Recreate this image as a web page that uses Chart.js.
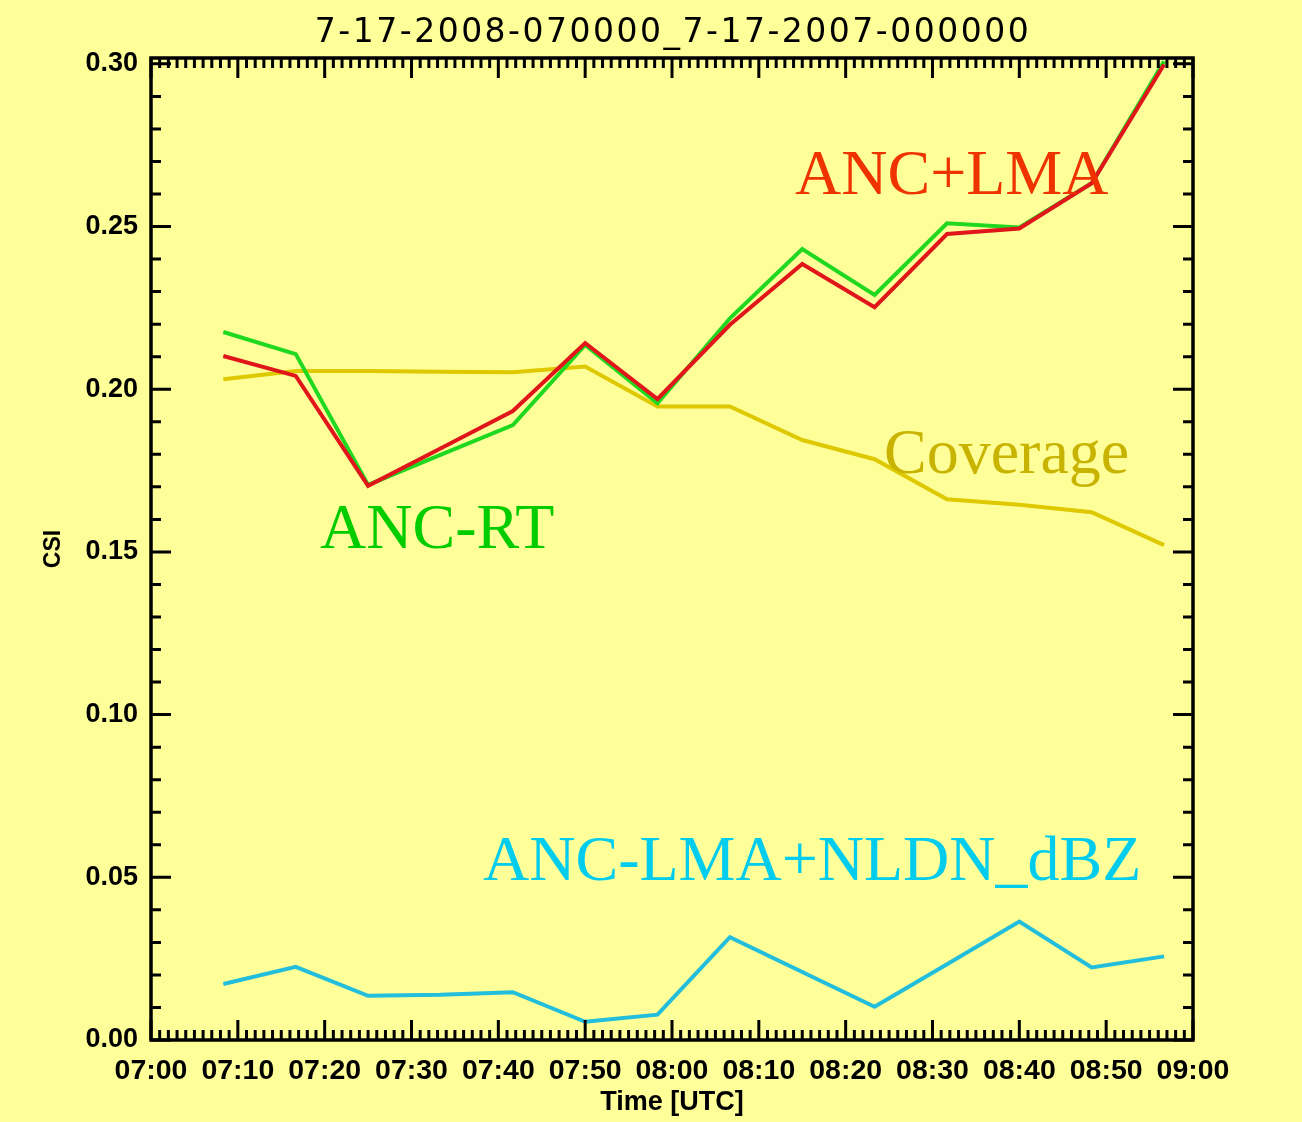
<!DOCTYPE html>
<html><head><meta charset="utf-8">
<script src="https://cdn.jsdelivr.net/npm/chart.js@4.4.1/dist/chart.umd.min.js"></script>
<style>
html,body{margin:0;padding:0;background:#FFFF99;}
#wrap{width:1302px;height:1122px;}
</style></head><body>
<div id="wrap"><canvas id="c" width="1302" height="1122"></canvas></div>
<script>
// ---- data ----
const chartTitle = '7-17-2008-070000_7-17-2007-000000';
const timesMin = [8.33, 16.67, 25, 33.33, 41.67, 50, 58.33, 66.67, 75, 83.33, 91.67, 100, 108.33, 116.67];
const ancLma      = [0.2102, 0.2041, 0.1703, 0.1818, 0.1933, 0.2142, 0.1970, 0.2198, 0.2385, 0.2252, 0.2477, 0.2494, 0.2633, 0.2998];
const ancRt       = [0.2176, 0.2108, 0.1706, 0.1798, 0.1890, 0.2136, 0.1957, 0.2218, 0.2431, 0.2290, 0.2510, 0.2497, 0.2633, 0.3008];
const coverage    = [0.2031, 0.2056, 0.2056, 0.2054, 0.2052, 0.2070, 0.1947, 0.1947, 0.1844, 0.1785, 0.1662, 0.1645, 0.1622, 0.1521];
const ancLmaNldn  = [0.0172, 0.0225, 0.0136, 0.0139, 0.0147, 0.0056, 0.0078, 0.0316, 0.0209, 0.0102, 0.0233, 0.0364, 0.0223, 0.0257];
const seriesNames = ['ANC+LMA', 'ANC-RT', 'Coverage', 'ANC-LMA+NLDN_dBZ'];
const xTickValues = [0, 10, 20, 30, 40, 50, 60, 70, 80, 90, 100, 110, 120];
const xTickLabels = ['07:00','07:10','07:20','07:30','07:40','07:50','08:00','08:10','08:20','08:30','08:40','08:50','09:00'];
const yTickValues = [0, 0.05, 0.10, 0.15, 0.20, 0.25, 0.30];
const yTickLabels = ['0.00','0.05','0.10','0.15','0.20','0.25','0.30'];
const xAxisTitle = 'Time [UTC]';
const yAxisTitle = 'CSI';

// ---- styles ----
const BG = '#FFFF99';
const colors = { ancLma: '#E0161A', ancRt: '#1FD81F', coverage: '#DEC800', nldn: '#22BEDC' };
const labelColors = { ancLma: '#EE3300', ancRt: '#00CC00', coverage: '#C8B400', nldn: '#00CCEE' };

const pts = arr => arr.map((v, i) => ({ x: timesMin[i], y: v }));

const bgPlugin = {
  id: 'bg',
  beforeDraw(chart) {
    const ctx = chart.ctx;
    ctx.save();
    ctx.fillStyle = BG;
    ctx.fillRect(0, 0, chart.width, chart.height);
    ctx.restore();
  }
};

const framePlugin = {
  id: 'frame',
  afterDatasetsDraw(chart) {
    const ctx = chart.ctx;
    const a = chart.chartArea;
    const xs = chart.scales.x, ys = chart.scales.y;
    ctx.save();
    ctx.strokeStyle = '#000';
    ctx.lineCap = 'butt';
    ctx.lineWidth = 3;
    const majorLen = 20, minorLen = 10;
    for (let m = 0; m <= 120; m++) {
      const px = xs.getPixelForValue(m);
      const len = (m % 10 === 0) ? majorLen : minorLen;
      ctx.beginPath();
      ctx.moveTo(px, a.bottom); ctx.lineTo(px, a.bottom - len);
      ctx.moveTo(px, a.top); ctx.lineTo(px, a.top + len);
      ctx.stroke();
    }
    for (let k = 0; k <= 30; k++) {
      const py = ys.getPixelForValue(k / 100);
      const len = (k % 5 === 0) ? majorLen : minorLen;
      ctx.beginPath();
      ctx.moveTo(a.left, py); ctx.lineTo(a.left + len, py);
      ctx.moveTo(a.right, py); ctx.lineTo(a.right - len, py);
      ctx.stroke();
    }
    ctx.lineWidth = 3.5;
    ctx.lineJoin = 'miter';
    ctx.strokeRect(a.left, a.top, a.right - a.left, a.bottom - a.top);
    ctx.restore();
  },
  afterDraw(chart) {
    const ctx = chart.ctx;
    ctx.save();
    ctx.fillStyle = '#000';
    ctx.font = '33px "DejaVu Sans"';
    try { ctx.letterSpacing = '2.5px'; } catch (e) {}
    ctx.textAlign = 'center';
    ctx.textBaseline = 'alphabetic';
    ctx.fillText(chartTitle, (chart.chartArea.left + chart.chartArea.right) / 2 + 1, 42);
    try { ctx.letterSpacing = '0px'; } catch (e) {}
    ctx.font = '64px "Liberation Serif"';
    ctx.textAlign = 'left';
    const labs = [
      { t: seriesNames[0], c: labelColors.ancLma, x: 795, y: 194 },
      { t: seriesNames[1], c: labelColors.ancRt, x: 320, y: 548 },
      { t: seriesNames[2], c: labelColors.coverage, x: 884, y: 473 },
      { t: seriesNames[3], c: labelColors.nldn, x: 483, y: 880 }
    ];
    labs.forEach(l => { ctx.fillStyle = l.c; ctx.fillText(l.t, l.x, l.y); });
    ctx.restore();
  }
};

new Chart(document.getElementById('c'), {
  type: 'line',
  data: {
    datasets: [
      { label: seriesNames[0], data: pts(ancLma), borderColor: colors.ancLma, borderWidth: 4, pointRadius: 0, order: 1 },
      { label: seriesNames[1], data: pts(ancRt), borderColor: colors.ancRt, borderWidth: 4, pointRadius: 0, order: 2 },
      { label: seriesNames[2], data: pts(coverage), borderColor: colors.coverage, borderWidth: 4, pointRadius: 0, order: 3 },
      { label: seriesNames[3], data: pts(ancLmaNldn), borderColor: colors.nldn, borderWidth: 4, pointRadius: 0, order: 4 }
    ]
  },
  options: {
    responsive: false,
    animation: false,
    devicePixelRatio: 1,
    layout: { padding: { top: 58, right: 109, left: 0, bottom: 0 } },
    plugins: { legend: { display: false }, tooltip: { enabled: false }, title: { display: false } },
    scales: {
      x: {
        type: 'linear', min: 0, max: 120,
        afterBuildTicks: s => { s.ticks = xTickValues.map(v => ({ value: v })); },
        afterFit: s => { s.height = 82; },
        grid: { display: false, drawTicks: false, tickLength: 0 },
        border: { display: false },
        ticks: {
          autoSkip: false, maxRotation: 0, minRotation: 0, padding: 14, color: '#000',
          font: { family: 'Liberation Sans', weight: 'bold', size: 28.5 },
          callback: (v, i) => xTickLabels[i]
        },
        title: { display: true, text: xAxisTitle, color: '#000', padding: { top: 0, bottom: 3 },
          font: { family: 'Liberation Sans', weight: 'bold', size: 27 } }
      },
      y: {
        min: 0, max: 0.3018,
        afterBuildTicks: s => { s.ticks = yTickValues.map(v => ({ value: v })); },
        afterFit: s => { s.width = 151; },
        grid: { display: false, drawTicks: false, tickLength: 0 },
        border: { display: false },
        ticks: {
          autoSkip: false, padding: 13, color: '#000',
          font: { family: 'Liberation Sans', weight: 'bold', size: 27 },
          callback: (v, i) => yTickLabels[i]
        },
        title: { display: true, text: yAxisTitle, color: '#000', padding: { top: 40, bottom: 0 },
          font: { family: 'Liberation Sans', weight: 'bold', size: 23 } }
      }
    }
  },
  plugins: [bgPlugin, framePlugin]
});
</script>
</body></html>
